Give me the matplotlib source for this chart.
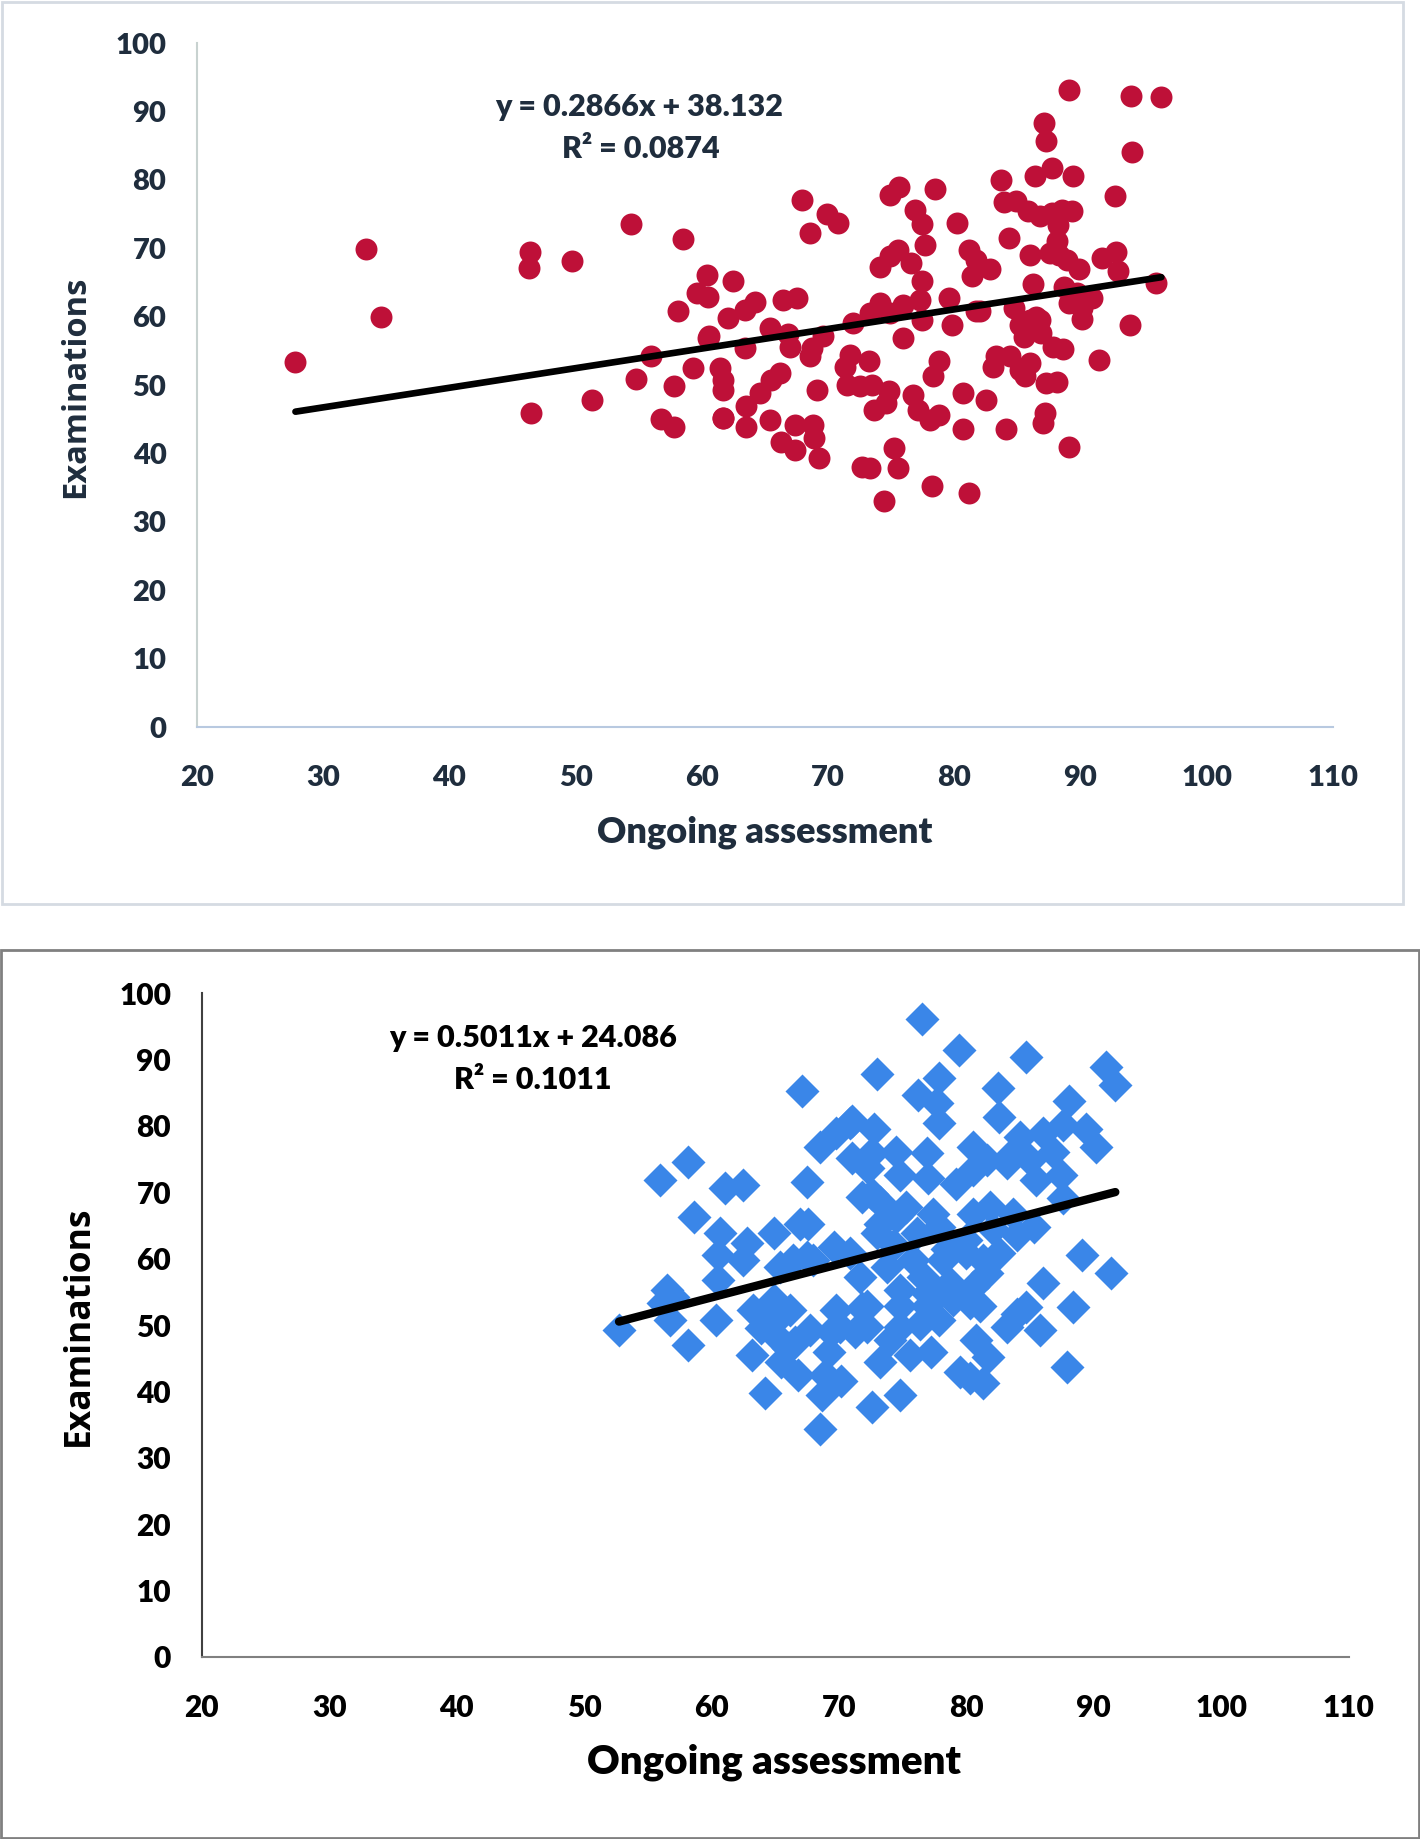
import matplotlib
matplotlib.use("Agg")
import matplotlib.pyplot as plt
from matplotlib.patches import Rectangle
import numpy as np

# --- top chart: ongoing assessment vs examinations (red circles)
top_x = [27.8, 33.4, 34.6, 46.4, 46.3, 49.7, 46.5, 51.3, 54.4, 58.5,
         60.4, 59.6, 60.5, 58.1, 60.5, 56.0, 59.3, 54.8, 57.8, 56.8,
         57.8, 61.7, 89.1, 94.0, 96.4, 87.1, 87.3, 94.1, 83.7, 86.4,
         87.7, 89.4, 92.7, 67.9, 69.9, 70.8, 68.6, 74.9, 75.6, 78.5,
         76.9, 77.4, 77.7, 80.2, 83.9, 84.9, 85.8, 86.8, 87.7, 88.5,
         89.3, 88.2, 88.1, 84.3, 86.0, 87.6, 88.3, 88.9, 89.9, 91.7,
         92.8, 93.0, 86.2, 88.7, 89.7, 90.9, 89.1, 90.1, 96.0, 93.9,
         91.5, 81.2, 81.7, 82.8, 81.4, 74.1, 74.9, 75.5, 76.6, 77.4,
         74.1, 73.3, 72.0, 74.9, 75.9, 77.3, 77.4, 75.9, 79.6, 79.8,
         81.7, 84.7, 85.2, 86.0, 86.8, 86.9, 87.8, 88.6, 90.1, 83.3,
         83.1, 84.4, 85.2, 86.0, 85.6, 87.3, 88.1, 87.2, 87.0, 89.1,
         84.1, 82.5, 80.7, 80.7, 81.2, 78.2, 74.4, 73.3, 75.5, 75.2,
         73.6, 74.8, 74.6, 76.7, 77.1, 78.1, 78.8, 78.8, 78.3, 71.7,
         71.3, 73.2, 71.5, 72.5, 69.1, 60.6, 62.5, 62.1, 63.4, 64.2,
         66.4, 67.5, 63.4, 65.4, 66.8, 67.0, 68.6, 69.6, 68.7, 61.4,
         61.7, 61.7, 66.2, 65.5, 64.6, 63.5, 61.7, 63.5, 65.4, 66.3,
         67.4, 67.4, 68.8, 68.9, 69.3, 72.7, 73.5, 82.0, 85.5, 86.5]
top_y = [53.3, 69.9, 60.0, 69.5, 67.1, 68.2, 45.9, 47.8, 73.6, 71.3,
         66.1, 63.4, 62.9, 60.8, 56.9, 54.2, 52.5, 50.9, 49.9, 45.0,
         43.9, 45.2, 93.2, 92.2, 92.1, 88.3, 85.6, 84.0, 80.0, 80.5,
         81.7, 80.5, 77.7, 77.0, 75.0, 73.7, 72.2, 77.8, 79.0, 78.7,
         75.6, 73.6, 70.4, 73.7, 76.7, 76.9, 75.4, 74.7, 75.1, 75.6,
         75.4, 73.4, 71.0, 71.5, 69.0, 69.3, 69.0, 68.3, 66.9, 68.6,
         69.5, 66.6, 64.7, 64.4, 63.4, 62.7, 62.0, 59.6, 64.9, 58.7,
         53.7, 69.8, 68.3, 66.9, 65.9, 67.3, 68.8, 69.8, 67.8, 65.2,
         62.0, 60.5, 59.1, 60.5, 61.7, 62.5, 59.5, 56.9, 62.7, 58.8,
         60.8, 61.3, 58.8, 59.5, 59.5, 57.6, 55.6, 55.2, 61.2, 54.2,
         52.7, 54.2, 52.2, 53.2, 51.3, 50.3, 50.5, 45.9, 44.4, 41.0,
         43.5, 47.8, 48.8, 43.5, 34.2, 35.2, 33.0, 37.8, 37.8, 40.8,
         46.4, 49.1, 47.3, 48.6, 46.4, 44.9, 45.6, 53.5, 51.3, 54.4,
         52.7, 53.5, 50.0, 49.8, 49.3, 57.1, 65.2, 59.8, 61.0, 62.2,
         62.5, 62.7, 55.4, 58.3, 57.4, 55.6, 54.2, 57.1, 55.4, 52.5,
         50.8, 49.3, 51.7, 50.8, 48.8, 46.9, 45.2, 43.9, 44.9, 41.7,
         44.2, 40.5, 44.2, 42.2, 39.3, 38.0, 50.0, 60.8, 57.0, 60.0]

# --- bottom chart (blue diamonds)
bot_x = [52.75, 55.97, 58.2, 58.6, 61.1, 62.5, 60.7, 62.8, 64.9, 60.5,
         62.5, 60.5, 66.96, 65.4, 66.4, 67.5, 56.5, 57.0, 56.2, 56.75,
         60.4, 63.3, 64.9, 66.2, 58.2, 63.2, 63.9, 64.2, 65.0, 65.5,
         66.6, 65.5, 66.8, 66.0, 68.9, 69.4, 69.2, 68.5, 70.2, 68.7,
         71.3, 71.8,
         76.2, 77.7, 77.9, 82.5, 82.6, 70.9, 69.8, 68.5, 72.8, 71.0,
         72.6, 74.5, 71.8, 72.6, 76.9, 74.8, 77.0, 67.5, 80.55, 80.55,
         79.2, 81.6, 83.2, 84.2, 85.0, 85.5, 86.0, 83.7, 67.6, 73.2,
         75.3, 72.97, 74.5, 77.4, 76.1, 77.9, 80.55, 81.9, 83.7, 85.3,
         80.0, 82.6, 81.3, 69.6, 70.9, 68.0, 71.7, 73.75, 75.8, 78.2,
         80.0, 76.6, 74.8, 76.9, 78.7, 80.55, 81.6, 74.8, 76.9, 79.0,
         80.3, 69.8, 72.2, 67.7, 70.1, 72.2, 74.8, 76.4, 77.9, 74.0,
         80.8, 83.2, 84.0, 86.0, 84.7, 85.8, 81.1,
         67.1, 72.97, 71.0, 76.5, 79.4, 84.7, 91.0, 91.7, 77.9, 88.1,
         87.6, 89.4, 90.2, 86.8, 87.4, 87.6, 89.1, 91.4, 88.4, 87.9,
         73.2, 75.6, 77.2, 81.7, 79.5, 81.3, 74.8, 72.6, 80.3, 84.0,
         82.1, 72.3, 73.2, 74.3, 78.5]
bot_y = [49.3, 71.9, 74.6, 66.3, 70.6, 71.1, 63.8, 62.3, 63.8, 60.6,
         59.8, 56.8, 65.3, 58.8, 59.8, 60.3, 55.3, 54.3, 53.3, 50.8,
         50.8, 52.3, 53.8, 52.3, 47.0, 45.5, 49.5, 39.7, 48.5, 51.5,
         47.5, 44.5, 42.5, 46.5, 42.5, 49.0, 46.0, 34.4, 41.5, 39.5,
         49.0, 52.5,
         84.7, 83.4, 80.4, 85.7, 81.4, 80.4, 78.9, 76.9, 79.6, 75.1,
         75.9, 76.1, 69.3, 69.8, 75.9, 72.6, 72.1, 71.6, 76.9, 73.4,
         71.3, 74.9, 74.4, 78.4, 74.9, 71.8, 78.9, 75.9, 65.3, 65.3,
         67.8, 63.8, 66.3, 66.8, 63.8, 64.8, 66.8, 67.8, 66.8, 64.8,
         62.8, 60.8, 59.8, 61.8, 60.8, 59.8, 57.3, 58.8, 59.8, 59.8,
         60.8, 57.3, 55.3, 54.8, 56.3, 55.8, 57.8, 52.8, 52.8, 53.8,
         53.3, 52.3, 52.8, 49.2, 49.7, 49.7, 49.7, 50.2, 50.7, 47.7,
         47.7, 49.7, 51.7, 56.3, 52.7, 49.2, 52.8,
         85.2, 87.9, 80.8, 96.1, 91.4, 90.4, 88.9, 86.2, 87.2, 83.7,
         80.1, 79.6, 76.9, 76.1, 72.6, 69.1, 60.6, 57.8, 52.7, 43.7,
         44.5, 45.5, 46.0, 45.2, 43.0, 41.2, 39.5, 37.7, 42.0, 63.6,
         64.5, 73.6, 68.6, 62.1, 61.5]

xticks = [20, 30, 40, 50, 60, 70, 80, 90, 100, 110]
yticks = [0, 10, 20, 30, 40, 50, 60, 70, 80, 90, 100]

top_eq = ("y = 0.2866x + 38.132", "R\u00b2 = 0.0874")
top_fit = (0.2866, 38.132)
bot_eq = ("y = 0.5011x + 24.086", "R\u00b2 = 0.1011")
bot_fit = (0.5011, 24.086)

W, H = 1420, 1839
fig = plt.figure(figsize=(W / 100, H / 100), dpi=100)

# panel frames
fig.patches.append(Rectangle((2 / W, 1 - 904 / H), 1401 / W, 902 / H,
                             transform=fig.transFigure, fill=False,
                             edgecolor='#d5dbe2', lw=2))
fig.patches.append(Rectangle((1 / W, 1 / H), 1418 / W, (1839 - 951) / H,
                             transform=fig.transFigure, fill=False,
                             edgecolor='#808080', lw=2))

FW = 'heavy'


def setup(ax, tick_color, left_col, bottom_col, fs):
    ax.set_xlim(20, 110)
    ax.set_ylim(0, 100)
    ax.set_xticks(xticks)
    ax.set_yticks(yticks)
    for s in ['top', 'right']:
        ax.spines[s].set_visible(False)
    ax.spines['left'].set_color(left_col)
    ax.spines['bottom'].set_color(bottom_col)
    ax.spines['left'].set_linewidth(1.5)
    ax.spines['bottom'].set_linewidth(1.5)
    ax.tick_params(length=0, labelsize=fs, labelcolor=tick_color)
    ax.tick_params(axis='x', pad=27)
    ax.tick_params(axis='y', pad=22)
    for lab in ax.get_xticklabels() + ax.get_yticklabels():
        lab.set_fontweight(FW)
        lab.set_family('Lato')


# ---- top
navy = '#1f2d3d'
ax1 = fig.add_axes([197 / W, 1 - 727 / H, 1136 / W, 684 / H])
setup(ax1, navy, '#c8d2d0', '#b8c9e0', 21)
ax1.scatter(top_x, top_y, s=250, marker='o', color='#be1038', lw=0, zorder=2)
xs = np.array([min(top_x), max(top_x)])
ax1.plot(xs, top_fit[0] * xs + top_fit[1], color='black', lw=4.8,
         solid_capstyle='round', zorder=3)
ax1.text(55, 90.7, top_eq[0], ha='center', va='center', fontsize=22,
         fontweight=FW, color=navy, family='Lato')
ax1.text(55.2, 84.5, top_eq[1], ha='center', va='center', fontsize=22,
         fontweight=FW, color=navy, family='Lato')
ax1.set_xlabel('Ongoing assessment', fontsize=26, fontweight=FW,
               color=navy, family='Lato', va='center')
ax1.xaxis.set_label_coords(0.4996, -0.154)
ax1.set_ylabel('Examinations', fontsize=23.5, fontweight='bold',
               color=navy, family='Open Sans', va='center')
ax1.yaxis.set_label_coords(-0.1065, 0.497)

# ---- bottom
ax2 = fig.add_axes([201.7 / W, 182.1 / H, 1146.8 / W, 663.7 / H])
setup(ax2, 'black', '#404040', '#808080', 21.5)
ax2.scatter(bot_x, bot_y, s=300, marker='D', color='#3a86e8', lw=0, zorder=2)
xs = np.array([min(bot_x), max(bot_x)])
ax2.plot(xs, bot_fit[0] * xs + bot_fit[1], color='black', lw=6,
         solid_capstyle='round', zorder=3)
ax2.text(46, 93.3, bot_eq[0], ha='center', va='center', fontsize=22,
         fontweight=FW, color='black', family='Lato')
ax2.text(46, 86.9, bot_eq[1], ha='center', va='center', fontsize=22,
         fontweight=FW, color='black', family='Lato')
ax2.set_xlabel('Ongoing assessment', fontsize=29, fontweight=FW,
               color='black', family='Lato', va='center')
ax2.xaxis.set_label_coords(0.499, -0.158)
ax2.set_ylabel('Examinations', fontsize=25.5, fontweight='bold',
               color='black', family='Open Sans', va='center')
ax2.yaxis.set_label_coords(-0.107, 0.4986)

fig.savefig('out.png', dpi=100, facecolor='white')
